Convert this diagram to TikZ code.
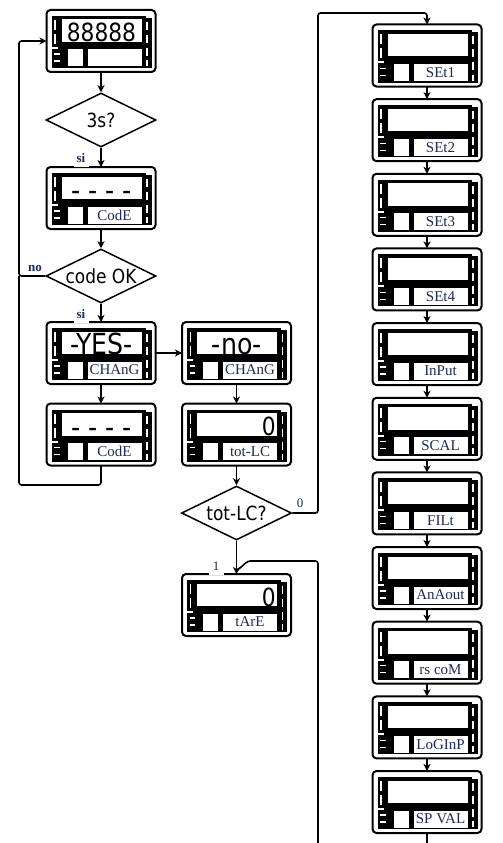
\documentclass[tikz,border=0pt]{standalone}
\usepackage{fontspec}
\setmainfont{Liberation Serif}
\newfontfamily\dispfont[FakeStretch=0.87]{DejaVu Sans}
\usetikzlibrary{shapes.geometric,arrows.meta,calc}
\definecolor{lbl}{HTML}{1F2A5C}
\tikzset{
  panelbox/.style={draw,line width=2pt,rounded corners=4pt,minimum width=109pt,minimum height=62pt,inner sep=0pt,outer sep=0pt},
  wdash/.style={draw=white,line width=1.3pt},
  lbltext/.style={font=\fontsize{15}{15}\selectfont,text=lbl,inner sep=0pt},
  disp/.style={font=\dispfont\fontsize{25}{25}\selectfont,inner sep=0pt},
  dispbig/.style={font=\dispfont\fontsize{29}{29}\selectfont,inner sep=0pt},
  decision/.style={draw,diamond,aspect=2,line width=1.5pt,minimum width=110pt,minimum height=54pt,inner sep=0pt,font=\dispfont\fontsize{19.5}{19.5}\selectfont},
  conn/.style={line width=1.6pt,rounded corners=2.5pt},
  arr/.style={conn,-{Stealth[length=7pt,width=7pt,inset=2pt]}},
  flag/.style={fill=white,font=\bfseries\fontsize{13}{13}\selectfont,text=lbl,inner sep=1pt,minimum width=15pt,minimum height=18pt},
  tag/.style={font=\fontsize{13}{13}\selectfont,text=lbl,inner sep=1pt}
}
\newcommand\mkpanel[3]{%
  \node[panelbox] (#1) at #2 {};
  \begin{scope}[shift={(#1.north west)}]
    \fill (5,6) rectangle (14,37);
    \fill (11,6) rectangle (99,36);
    \fill[white] (15,9.5) rectangle (95,32);
    \fill (11,36) rectangle (99,58);
    \fill (5,39) rectangle (16,58);
    \fill (96,8) rectangle (105,58);
    \fill[white] (21,39.5) rectangle (36,56.5);
    \fill[white] (41,39.5) rectangle (95,56.5);
    \draw[wdash] (8.5,10)--(8.5,20) (8.5,24)--(8.5,34);
    \draw[wdash] (100.5,12)--(100.5,20) (100.5,25)--(100.5,33) (100.5,38)--(100.5,46) (100.5,50)--(100.5,56);
    \draw[wdash] (7.5,44)--(13,44) (7.5,51)--(13,51);
    \node[lbltext] (#1-l) at (68,48) {#3};
  \end{scope}}
\begin{document}
\begin{tikzpicture}[x=1pt,y=-1pt]
\useasboundingbox (0,0) rectangle (503,843);
% left column
\mkpanel{d1}{(101,41)}{}
\node[disp,anchor=base] (d1-d) at ($(d1.north west)+(55,32)$) {88888};
\node[decision] (q1) at (101,120) {3s?};
\mkpanel{d2}{(101,198)}{CodE}
\node[dispbig,anchor=base] (d2-d) at ($(d2.north west)+(55,33.5)$) {- - - -};
\node[decision] (q2) at (101,276) {code OK};
\mkpanel{d3}{(101,353)}{CHAnG}
\node[dispbig,anchor=base] (d3-d) at ($(d3.north west)+(55,32.5)$) {-YES-};
\mkpanel{d4}{(101,434.5)}{CodE}
\node[dispbig,anchor=base] (d4-d) at ($(d4.north west)+(55,33.5)$) {- - - -};
% middle column
\mkpanel{d5}{(236.5,353)}{CHAnG}
\node[dispbig,anchor=base] (d5-d) at ($(d5.north west)+(55,32.5)$) {-no-};
\mkpanel{d6}{(236.5,434.5)}{tot-LC}
\node[disp,anchor=base east] (d6-d) at ($(d6.north west)+(94,32)$) {0};
\node[decision] (q3) at (236.5,513) {tot-LC?};
\mkpanel{d7}{(236.5,605)}{tArE}
\node[disp,anchor=base east] (d7-d) at ($(d7.north west)+(94,32)$) {0};
% right column
\foreach \n/\t [count=\i from 0] in {s1/SEt1,s2/SEt2,s3/SEt3,s4/SEt4,s5/InPut,s6/SCAL,s7/FILt,s8/AnAout,s9/rs coM,s10/LoGInP,s11/SP VAL}{
  \mkpanel{\n}{(427,55.5+74.65*\i)}{\t}
}
% connectors
\coordinate (cl) at (19,39);
\coordinate (cb) at (19,485);
\coordinate (cr) at (318,13);
\coordinate (cbot) at (318,843);
\coordinate (cm) at (248,561);
\coordinate (c7) at ($(d7.north)+(0,-3)$);
\coordinate (cend) at (427,843);
\draw[arr] (d1.south) -- (q1.north);
\draw[arr] (q1.south) -- (d2.north);
\draw[arr] (d2.south) -- (q2.north);
\draw[arr] (q2.south) -- (d3.north);
\draw[arr] (q2.west) -| (cl |- d1.west) -- (d1.west);
\draw[conn] (d4.south) |- (cb) -- (cb |- q2.west);
\draw[arr] (d3.south) -- (d4.north);
\draw[arr] (d3.east) -- (d5.west);
\draw[arr] (d5.south) -- (d6.north);
\draw[arr] (d6.south) -- (q3.north);
\draw[arr] (q3.south) -- (d7.north);
\draw[arr] (q3.east) -| (cr) -| (s1.north);
\draw[conn] (cbot) |- (cm) -- (c7);
\foreach \a/\b in {s1/s2,s2/s3,s3/s4,s4/s5,s5/s6,s6/s7,s7/s8,s8/s9,s9/s10,s10/s11}{
  \draw[arr] (\a.south) -- (\b.north);
}
\draw[conn] (s11.south) -- (cend);
% labels
\node[flag] (t-si1) at (81,158) {si};
\node[flag] (t-si2) at (81,314) {si};
\node[flag,fill=none,minimum height=0pt] (t-no) at (35,268) {no};
\node[tag] (t-0) at (300,503) {0};
\node[flag,font=\fontsize{13}{13}\selectfont] (t-1) at (216,566) {1};
\end{tikzpicture}
\end{document}
